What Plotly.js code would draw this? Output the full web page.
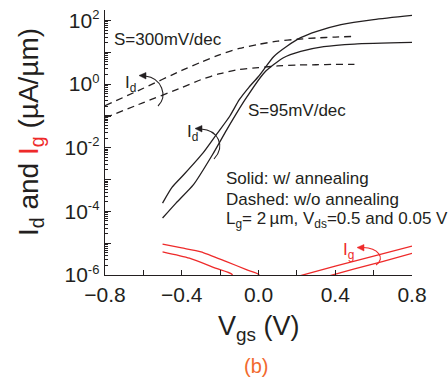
<!DOCTYPE html>
<html>
<head>
<meta charset="utf-8">
<script src="https://cdn.plot.ly/plotly-3.0.1.min.js"></script>
<style>html,body{margin:0;padding:0;background:#fff;}#chart{width:448px;height:383px;}</style>
</head>
<body>
<div id="chart"></div>
<script>
// ---- data (Vgs in V, current in uA/um) ----
const vgsSolidHi = [-0.5,-0.45,-0.39,-0.29,-0.22,-0.15,-0.1,-0.05,0.0,0.08,0.15,0.22,0.3,0.43,0.6,0.8];
const idSolidHi  = [1.82e-4,5.75e-4,1.41e-3,6.76e-3,2.57e-2,9.77e-2,0.324,0.794,1.74,7.41,15.8,28.8,44.7,74.1,107,145];

const vgsSolidLo = [-0.5,-0.43,-0.34,-0.24,-0.165,-0.07,0.03,0.13,0.22,0.34,0.5,0.8];
const idSolidLo  = [6.17e-5,1.82e-4,6.76e-4,6.03e-3,3.72e-2,0.324,2.29,6.76,10.7,15.1,18.2,20.4];

const vgsDashed  = [-0.8,-0.6,-0.4,-0.3,-0.2,-0.1,0.0,0.1,0.2,0.3,0.4,0.5];
const idDashedHi = [0.209,0.741,2.69,4.90,8.51,13.2,17.8,22.4,25.7,28.2,30.2,31.6];
const idDashedLo = [0.0871,0.263,0.776,1.38,2.14,2.88,3.31,3.72,3.98,4.07,4.17,4.17];

const vgsIgLeftA = [-0.5,-0.4,-0.3,-0.17,-0.06,0.0,0.02];
const igLeftA    = [9.33e-6,7.08e-6,5.37e-6,2.69e-6,1.45e-6,1.05e-6,5.0e-7];
const vgsIgLeftB = [-0.5,-0.36,-0.22,-0.14,-0.12];
const igLeftB    = [5.37e-6,3.39e-6,1.62e-6,1.07e-6,5.0e-7];
const vgsIgRightA = [0.2,0.4,0.6,0.8];
const igRightA    = [8.9e-7,1.91e-6,3.89e-6,8.13e-6];
const vgsIgRightB = [0.36,0.5,0.65,0.8];
const igRightB    = [9.1e-7,1.55e-6,2.69e-6,4.79e-6];

const xTickVals = [-0.8,-0.6,-0.4,-0.2,0.0,0.2,0.4,0.6,0.8];
const xTickText = ['\u22120.8','','\u22120.4','','0.0','','0.4','','0.8'];
const yTickExps = [-6,-5,-4,-3,-2,-1,0,1,2];
const yTickSups = ['-6','','-4','','-2','','0','','2'];

// ---- styling ----
const FONT = 'Liberation Sans, Arial, Helvetica, sans-serif';
const INK = '#231f20';
const RED = '#ee2a2a';
const L = 105, R = 412, T = 10, B = 275;
const px = x => (x - L) / (R - L);
const py = y => (B - y) / (B - T);

const yTickVals = yTickExps.map(e => Math.pow(10, e));
const yTickText = yTickSups.map(s => s === '' ? '' : '10<sup><span style="font-size:13px">' + s + '</span></sup>');
const minorVals = [];
for (let e = -6; e <= 2; e++) for (let k = 2; k <= 9; k++) minorVals.push(k * Math.pow(10, e));

function line(x, y, color, dash) {
  return {x: x, y: y, type: 'scatter', mode: 'lines', hoverinfo: 'skip',
    line: {color: color, width: 1.3, dash: dash || 'solid', shape: 'spline', smoothing: 0.6}};
}

const traces = [
  line(vgsSolidHi, idSolidHi, INK),
  line(vgsSolidLo, idSolidLo, INK),
  line(vgsDashed, idDashedHi, INK, '7px,5px'),
  line(vgsDashed, idDashedLo, INK, '7px,5px'),
  line(vgsIgLeftA, igLeftA, RED),
  line(vgsIgLeftB, igLeftB, RED),
  line(vgsIgRightA, igRightA, RED),
  line(vgsIgRightB, igRightB, RED)
];

function arcPath(p) {
  return 'M' + px(p[0]) + ',' + py(p[1]) + ' C' + px(p[2]) + ',' + py(p[3]) + ' ' +
         px(p[4]) + ',' + py(p[5]) + ' ' + px(p[6]) + ',' + py(p[7]);
}
function triPath(p) {
  return 'M' + px(p[0]) + ',' + py(p[1]) + ' L' + px(p[2]) + ',' + py(p[3]) + ' L' + px(p[4]) + ',' + py(p[5]) + ' Z';
}
function arrowShapes(arc, tri, color) {
  return [
    {type: 'path', xref: 'paper', yref: 'paper', path: arcPath(arc), line: {color: color, width: 1.1}},
    {type: 'path', xref: 'paper', yref: 'paper', path: triPath(tri), line: {color: color, width: 0.5}, fillcolor: color}
  ];
}

const shapes = [].concat(
  arrowShapes([158,106, 168,96, 162,78, 145,76], [139,75.5, 146,72.5, 146,79], INK),
  arrowShapes([214,159, 226,146, 218,130, 201,129], [195,128.5, 202,125.5, 202,132], INK),
  arrowShapes([376,265, 386,258, 378,248, 363,247.5], [357,247.5, 364,244.5, 364,251], RED)
);

function txt(x, y, text, size, color, xanchor, extra) {
  return Object.assign({xref: 'paper', yref: 'paper', x: px(x), y: py(y), text: text, showarrow: false,
    xanchor: xanchor || 'left', yanchor: 'middle', font: {family: FONT, size: size, color: color || INK}}, extra || {});
}

const annotations = [
  txt(112, 40, 'S=300mV/dec', 17),
  txt(246, 110, 'S=95mV/dec', 17),
  txt(123, 84, 'I<sub>d</sub>', 17),
  txt(185, 133, 'I<sub>d</sub>', 17),
  txt(341, 251, 'I<sub>g</sub>', 17, RED),
  txt(224, 178, 'Solid: w/ annealing', 17),
  txt(224, 199, 'Dashed: w/o annealing', 17),
  txt(224, 220, 'L<sub>g</sub>= 2\u2009\u00b5m, V<sub>ds</sub>=0.5 and 0.05 V', 17),
  txt(258, 328, 'V<sub>gs</sub> (V)', 27, INK, 'center'),
  txt(256, 366, '(b)', 20, '#f26a2e', 'center'),
  txt(30, 132, 'I<sub>d</sub> and <span style="color:' + RED + '">I<sub>g</sub></span> (\u00b5A/\u00b5m)', 28, INK, 'center', {textangle: -90})
];

const layout = {
  width: 448, height: 383,
  margin: {l: L, r: 448 - R, t: T, b: 383 - B, pad: 0},
  paper_bgcolor: '#fff', plot_bgcolor: '#fff',
  showlegend: false,
  font: {family: FONT, color: INK},
  xaxis: {
    range: [-0.8, 0.8], tickmode: 'array', tickvals: xTickVals, ticktext: xTickText,
    ticks: 'inside', ticklen: 5, tickwidth: 1.2, tickcolor: INK,
    showline: true, linecolor: INK, linewidth: 1.4, showgrid: false, zeroline: false,
    tickfont: {family: FONT, size: 21, color: INK}
  },
  yaxis: {
    type: 'log', range: [-6, 2.33], tickmode: 'array', tickvals: yTickVals, ticktext: yTickText,
    ticks: 'inside', ticklen: 6, tickwidth: 1.2, tickcolor: INK,
    minor: {tickmode: 'array', tickvals: minorVals, ticks: 'inside', ticklen: 3, tickwidth: 1, tickcolor: INK, showgrid: false},
    showline: true, linecolor: INK, linewidth: 1.4, showgrid: false, zeroline: false,
    tickfont: {family: FONT, size: 21, color: INK}
  },
  shapes: shapes,
  annotations: annotations
};

Plotly.newPlot('chart', traces, layout, {staticPlot: true, displayModeBar: false});
</script>
</body>
</html>
